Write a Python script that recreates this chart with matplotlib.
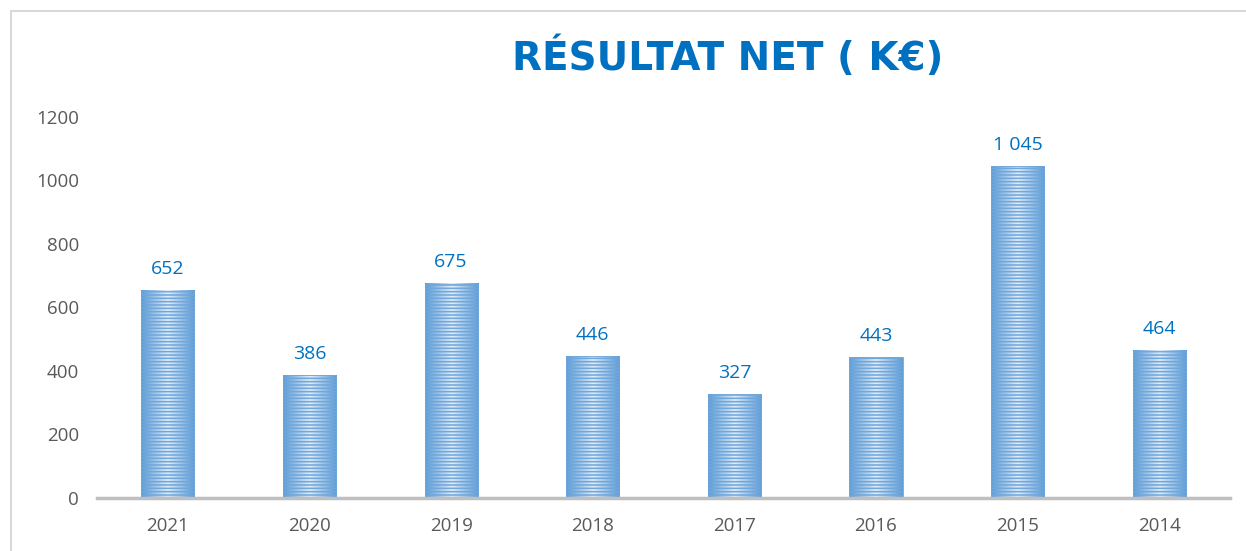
import numpy as np
import matplotlib.pyplot as plt
from matplotlib.colors import LinearSegmentedColormap
from matplotlib.patches import Rectangle

years = ['2021', '2020', '2019', '2018', '2017', '2016', '2015', '2014']
values = [652, 386, 675, 446, 327, 443, 1045, 464]
value_labels = ['652', '386', '675', '446', '327', '443', '1 045', '464']
yticks = [0, 200, 400, 600, 800, 1000, 1200]

plt.rcParams['font.family'] = ['Open Sans', 'DejaVu Sans']
plt.rcParams['hatch.linewidth'] = 1.1

fig = plt.figure(figsize=(12.46, 5.51), dpi=100)
ax = fig.add_axes([0.0779, 0.0962, 0.9093, 0.6915])

# outer chart frame (light grey)
fig.patches.append(Rectangle((11 / 1246, -0.2), 1.2, 1.2 - 11 / 551,
                             transform=fig.transFigure, fill=False,
                             edgecolor='#D9D9D9', linewidth=1.5))

x = np.arange(len(years))
width = 0.375

grad = LinearSegmentedColormap.from_list('g', ['#5B9BD5', '#E2EEF9', '#5B9BD5'])
g = np.linspace(0, 1, 64).reshape(1, -1)

bars = ax.bar(x, values, width=width, facecolor='none', edgecolor='#6FA6DB',
              linewidth=0.6, hatch='-----', zorder=3)
for b in bars:
    x0 = b.get_x()
    ax.imshow(g, cmap=grad, aspect='auto', zorder=2, interpolation='bilinear',
              extent=(x0, x0 + b.get_width(), 0, b.get_height()))

for xi, v, lab in zip(x, values, value_labels):
    ax.annotate(lab, (xi, v), xytext=(0, 9), textcoords='offset points',
                ha='center', va='bottom', fontsize=14, color='#0070C0')

ax.set_xlim(-0.5, len(years) - 0.5)
ax.set_ylim(0, 1200)
ax.set_xticks(x)
ax.set_xticklabels(years)
ax.set_yticks(yticks)
ax.tick_params(axis='both', length=0, labelsize=13.5, colors='#595959')
ax.tick_params(axis='x', pad=14)
ax.tick_params(axis='y', pad=13)
for s in ['top', 'right', 'left']:
    ax.spines[s].set_visible(False)
ax.spines['bottom'].set_color('#BFBFBF')
ax.spines['bottom'].set_linewidth(2.5)
ax.spines['bottom'].set_zorder(4)

fig.text(0.584, 0.897, 'RÉSULTAT NET ( K€)', ha='center', va='center',
         fontsize=28, fontweight='bold', color='#0070C0',
         family=['DejaVu Sans'])

fig.savefig('out.png', dpi=100)
